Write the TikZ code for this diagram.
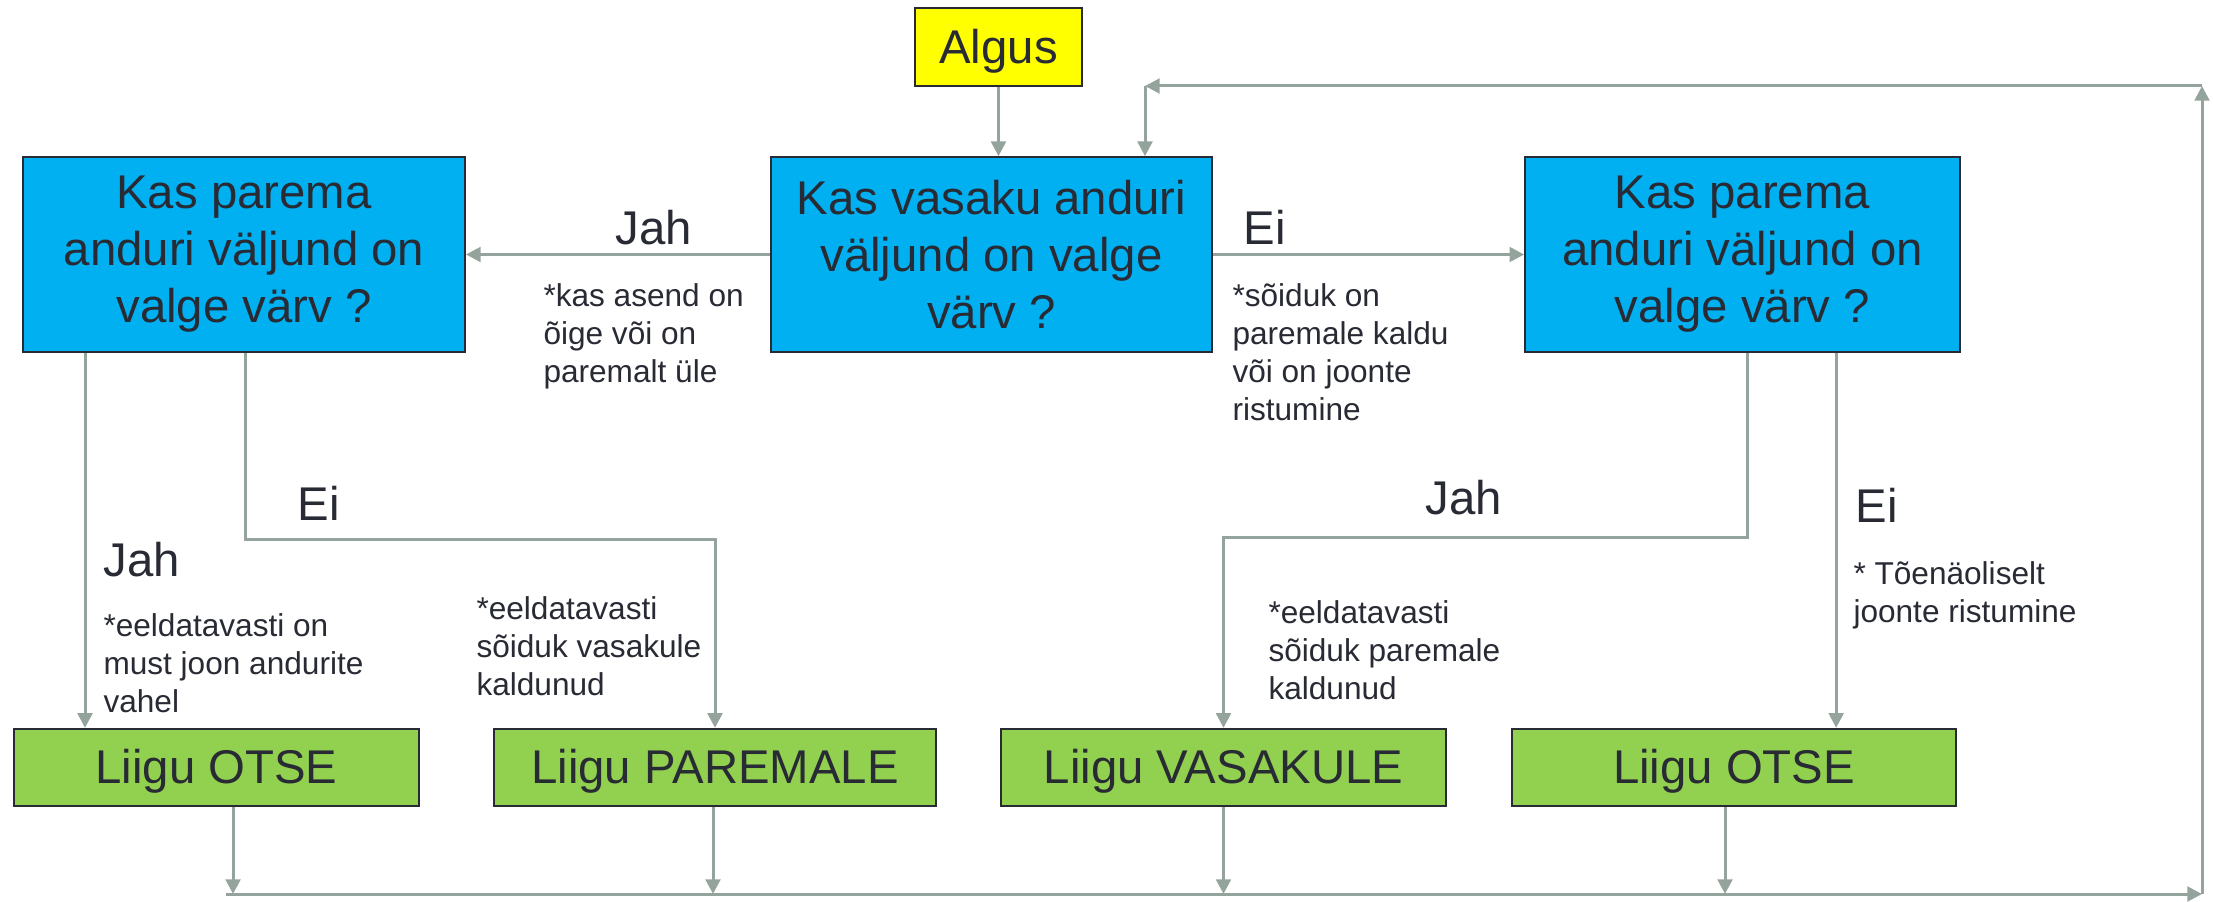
\documentclass[tikz,border=0pt]{standalone}
\usepackage{fontspec}
\setmainfont{Liberation Sans}
\usetikzlibrary{arrows.meta}

\definecolor{kysBlue}{RGB}{0,176,240}
\definecolor{liigGreen}{RGB}{146,208,80}
\definecolor{algYellow}{RGB}{255,255,0}
\definecolor{joon}{RGB}{148,164,156}
\definecolor{tekst}{RGB}{40,42,52}

\tikzset{every picture/.style={line width=0.75pt}}
\tikzset{
  kast/.style={draw=tekst, line width=1.5pt, inner sep=0pt, align=center, text=tekst,
    font=\fontsize{35.5}{42.75}\selectfont, execute at begin node={\rule{0pt}{32pt}}},
  kys/.style={kast, fill=kysBlue, minimum height=146pt},
  liigu/.style={kast, fill=liigGreen, minimum height=58pt},
  conn/.style={draw=joon, line width=2.25pt, -{Triangle[length=11pt,width=11pt]}},
  vastus/.style={text=tekst, inner sep=0pt, font=\fontsize{35.5}{42.75}\selectfont},
  markus/.style={text=tekst, inner sep=0pt, align=left, anchor=north west,
    font=\fontsize{23.7}{28.5}\selectfont},
}

\begin{document}
\begin{tikzpicture}[x=0.75pt,y=0.75pt,yscale=-1,xscale=1]
\useasboundingbox (0,0) rectangle (2214,902);

% start
\node [kast, fill=algYellow, minimum width=125pt, minimum height=58.5pt] (algus) at (998.5,47) {Algus};

% questions
\node [kys, minimum width=331pt] (kysKesk) at (991.5,254.5) {Kas vasaku anduri\\väljund on valge\\värv ?};
\node [kys, minimum width=331.5pt] (kysVasak) at (244,254.5) {Kas parema\\anduri väljund on\\valge värv ?};
\node [kys, minimum width=326pt] (kysParem) at (1742.5,254.5) {Kas parema\\anduri väljund on\\valge värv ?};

% actions
\node [liigu, minimum width=304pt] (liigu1) at (216.5,767.5) {Liigu OTSE};
\node [liigu, minimum width=331.5pt] (liigu2) at (715,767.5) {Liigu PAREMALE};
\node [liigu, minimum width=334pt] (liigu3) at (1223.5,767.5) {Liigu VASAKULE};
\node [liigu, minimum width=333pt] (liigu4) at (1734,767.5) {Liigu OTSE};

% branch starts and loop corners
\coordinate (v1) at ([xshift=47.25pt]kysVasak.south west);
\coordinate (v2) at ([xshift=167.25pt]kysVasak.south west);
\coordinate (p1) at ([xshift=3.4pt]kysParem.south);
\coordinate (p2) at ([xshift=234pt]kysParem.south west);
\coordinate (d1) at ([xshift=12.4pt]liigu1.south);
\coordinate (d2) at ([xshift=-1.5pt]liigu2.south);
\coordinate (d3) at (liigu3.south);
\coordinate (d4) at ([xshift=-6.75pt]liigu4.south);
\coordinate (alla) at (226,894);
\coordinate (paremAll) at (2202,894);
\coordinate (paremUl) at (2202,86);
\coordinate (keskUl) at (1145,86);

% connectors
\draw [conn] (algus.south) -- (algus.south |- kysKesk.north);
\draw [conn] (kysKesk.west) -- (kysVasak.east);
\draw [conn] (kysKesk.east) -- (kysParem.west);
\draw [conn] (v1) -- (v1 |- liigu1.north);
\draw [conn] (v2) -- ++(0,187) -| (liigu2.north);
\draw [conn] (p1) -- ++(0,185) -| (liigu3.north);
\draw [conn] (p2) -- (p2 |- liigu4.north);

% back to the start
\draw [conn] (d1) -- (d1 |- alla);
\draw [conn] (d2) -- (d2 |- alla);
\draw [conn] (d3) -- (d3 |- alla);
\draw [conn] (d4) -- (d4 |- alla);
\draw [conn] (alla) -- (paremAll);
\draw [conn] (paremAll) -- (paremUl);
\draw [conn] (paremUl) -- (keskUl);
\draw [conn] (keskUl) -- (keskUl |- kysKesk.north);

% answers
\node [vastus, anchor=base] (jahKesk) at (654,245) {Jah};
\node [vastus, anchor=base west] (eiKesk) at (1243,245) {Ei};
\node [vastus, anchor=base west] (eiVasak) at (297,520) {Ei};
\node [vastus, anchor=base west] (jahVasak) at (103,576) {Jah};
\node [vastus, anchor=base] (jahParem) at (1464,514) {Jah};
\node [vastus, anchor=base west] (eiParem) at (1855,522) {Ei};

% remarks
\node [markus] (mKesk1) at (543,283) {*kas asend on\\õige või on\\paremalt üle};
\node [markus] (mKesk2) at (1232,283) {*sõiduk on\\paremale kaldu\\või on joonte\\ristumine};
\node [markus] (mVasak1) at (103,613) {*eeldatavasti on\\must joon andurite\\vahel};
\node [markus] (mVasak2) at (476,596) {*eeldatavasti\\sõiduk vasakule\\kaldunud};
\node [markus] (mParem1) at (1268,600) {*eeldatavasti\\sõiduk paremale\\kaldunud};
\node [markus] (mParem2) at (1853,561) {* Tõenäoliselt\\joonte ristumine};

\end{tikzpicture}
\end{document}
